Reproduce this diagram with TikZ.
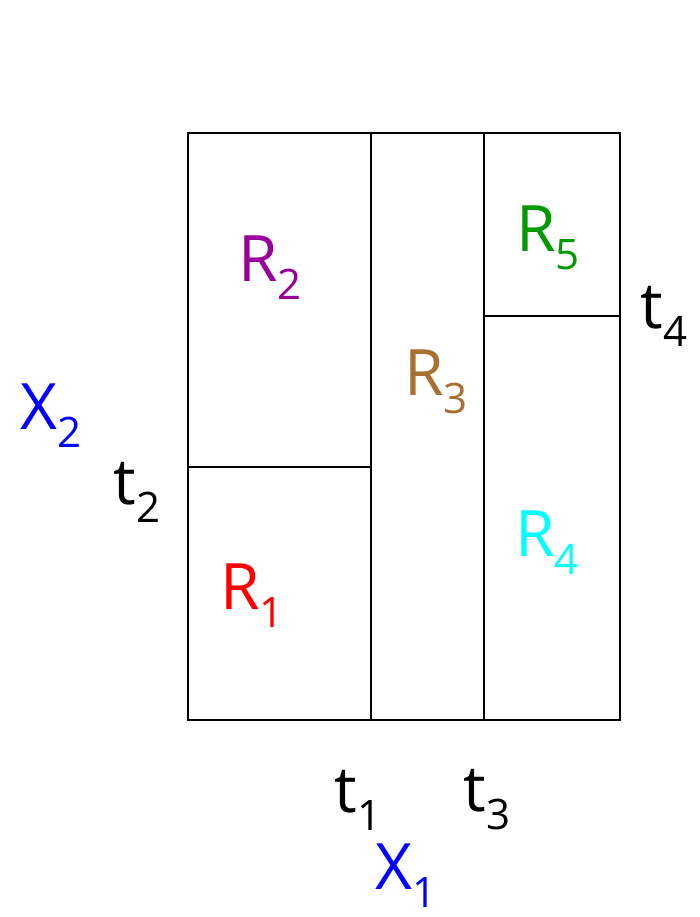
\documentclass[tikz,border=0pt]{standalone}
\usepackage{fontspec}
\setmainfont{Open Sans}
\newcommand{\subl}[2]{#1\raisebox{-18pt}{\fontsize{42}{42}\selectfont #2}}
\definecolor{rpurple}{HTML}{990099}
\definecolor{rgreen}{HTML}{009900}
\definecolor{rbrown}{HTML}{A8702F}
\definecolor{rcyan}{HTML}{00FFFF}
\definecolor{rred}{HTML}{FF0000}
\definecolor{rblue}{HTML}{0000FF}
\begin{document}
\begin{tikzpicture}[x=1pt,y=-1pt,
  lbl/.style={inner sep=0pt, font=\fontsize{64}{64}\selectfont},
  part/.style={line width=1.6pt, black}]
\useasboundingbox (0,0) rectangle (699,917);
\coordinate (tl) at (188,133);
\coordinate (br) at (620,720);
\draw[part] (tl) rectangle (br);
\coordinate (a1) at (371,133); \coordinate (a2) at (371,720);
\coordinate (b1) at (484,133); \coordinate (b2) at (484,720);
\coordinate (c1) at (188,467); \coordinate (c2) at (371,467);
\coordinate (d1) at (484,316); \coordinate (d2) at (620,316);
\draw[part] (a1) -- (a2);
\draw[part] (b1) -- (b2);
\draw[part] (c1) -- (c2);
\draw[part] (d1) -- (d2);
\node[lbl, text=rpurple] (R2) at (270,268) {\subl{R}{2}};
\node[lbl, text=rgreen] (R5) at (548,238) {\subl{R}{5}};
\node[lbl, text=rbrown] (R3) at (436,382) {\subl{R}{3}};
\node[lbl, text=rcyan] (R4) at (547,543) {\subl{R}{4}};
\node[lbl, text=rred] (R1) at (252,596) {\subl{R}{1}};
\node[lbl, text=rblue] (X2) at (51,416) {\subl{X}{2}};
\node[lbl, text=rblue] (X1) at (406,876) {\subl{X}{1}};
\node[lbl] (t2) at (137,492) {\subl{t}{2}};
\node[lbl] (t4) at (664,316) {\subl{t}{4}};
\node[lbl] (t1) at (358,800) {\subl{t}{1}};
\node[lbl] (t3) at (487,800) {\subl{t}{3}};
\end{tikzpicture}
\end{document}
